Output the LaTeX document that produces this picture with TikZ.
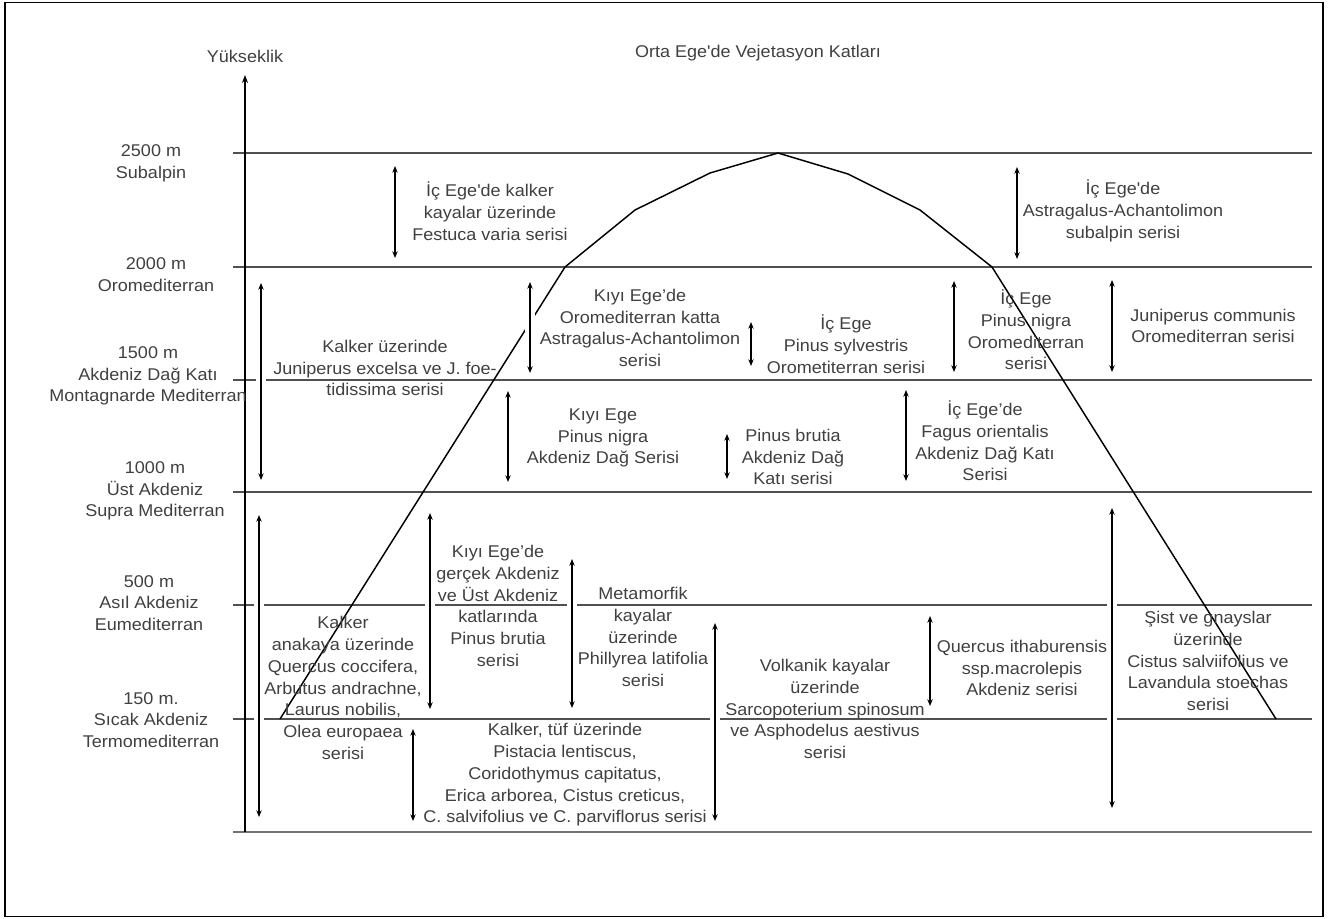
\documentclass[tikz,border=0pt]{standalone}
\usepackage{fontspec}
\setmainfont{Liberation Sans}[FakeStretch=1.06, Ligatures=TeXOff]
\usetikzlibrary{arrows.meta}
\definecolor{txt}{HTML}{404040}
\definecolor{ln}{HTML}{505050}
\begin{document}
\begin{tikzpicture}[x=0.75pt,y=-0.75pt,
  lbl/.style={text=txt, align=center, inner sep=0pt, font=\fontsize{12.75}{16.3}\selectfont},
  level/.style={draw=ln, line width=0.9pt},
  ground/.style={draw=black!55, line width=1.5pt},
  mountain/.style={draw=black, line width=1.1pt, line join=round},
  span/.style={line width=1.4pt, {Stealth[length=5pt,width=4pt]}-{Stealth[length=5pt,width=4pt]},
    preaction={draw=white, line width=7pt, -}},
  axis/.style={line width=1.1pt, -{Stealth[length=6pt,width=4.5pt]}}
]
\useasboundingbox (0,0) rectangle (1333,918);
\draw[line width=1.1pt] (5,2.5) rectangle (1323,916.5);

% altitude levels
\foreach \yy in {153,267,380,492,605,719}{\draw[level] (233,\yy) -- (1312,\yy);}
\draw[ground] (233,832) -- (1312,832);

% mountain profile
\draw[mountain] (280,719) -- (565,267) -- (635,210) -- (710,173) -- (778,153) -- (848,174) -- (920,210) -- (992,267) -- (1276,719);

% axis
\coordinate (ax0) at (245,832);
\coordinate (ax1) at (245,75);
\draw[axis] (ax0) -- (ax1);

% range arrows
\foreach \n/\xx/\ya/\yb in {1/395/166/258, 2/261/283/480, 3/259/515/817, 4/430/513/709,
  5/530/282/373, 6/751/322/366, 7/508/391/482, 8/727/434/479, 9/1017/167/259,
  10/954/281/372, 11/1112/280/372, 12/906/390/481, 13/1112/508/808, 14/413/729/821,
  15/572/559/708, 16/715/623/821, 17/930/616/706}{
  \coordinate (s\n a) at (\xx,\ya);
  \coordinate (s\n b) at (\xx,\yb);
  \draw[span] (s\n a) -- (s\n b);
}

% axis labels
\node[lbl] (yuk) at (245,56) {Yükseklik};
\node[lbl] (title) at (758,53) {Orta Ege'de Vejetasyon Katları};
\node[lbl] (l2500) at (151,163) {2500 m\\Subalpin};
\node[lbl] (l2000) at (156,275) {2000 m\\Oromediterran};
\node[lbl] (l1500) at (148,376) {1500 m\\Akdeniz Dağ Katı\\Montagnarde Mediterran};
\node[lbl] (l1000) at (155,491) {1000 m\\Üst Akdeniz\\Supra Mediterran};
\node[lbl] (l500) at (149,603) {500 m\\Asıl Akdeniz\\Eumediterran};
\node[lbl] (l150) at (151,720) {150 m.\\Sıcak Akdeniz\\Termomediterran};

% series labels
\node[lbl] (tA) at (490,211) {İç Ege'de kalker\\kayalar üzerinde\\Festuca varia serisi};
\node[lbl] (tB) at (1123,211) {İç Ege'de\\Astragalus-Achantolimon\\subalpin serisi};
\node[lbl] (tC) at (385,368) {Kalker üzerinde\\Juniperus excelsa ve J. foe-\\tidissima serisi};
\node[lbl] (tD) at (640,328) {Kıyı Ege’de\\Oromediterran katta\\Astragalus-Achantolimon\\serisi};
\node[lbl] (tE) at (846,344) {İç Ege\\Pinus sylvestris\\Orometiterran serisi};
\node[lbl] (tF) at (1026,330) {İç Ege\\Pinus nigra\\Oromediterran\\serisi};
\node[lbl] (tG) at (1213,326) {Juniperus communis\\Oromediterran serisi};
\node[lbl] (tH) at (603,438) {Kıyı Ege\\Pinus nigra\\Akdeniz Dağ Serisi};
\node[lbl] (tI) at (793,457) {Pinus brutia\\Akdeniz Dağ\\Katı serisi};
\node[lbl] (tJ) at (985,441) {İç Ege’de\\Fagus orientalis\\Akdeniz Dağ Katı\\Serisi};
\node[lbl] (tK) at (498,606) {Kıyı Ege’de\\gerçek Akdeniz\\ve Üst Akdeniz\\katlarında\\Pinus brutia\\serisi};
\node[lbl] (tL) at (643,637) {Metamorfik\\kayalar\\üzerinde\\Phillyrea latifolia\\serisi};
\node[lbl] (tM) at (343,688) {Kalker\\anakaya üzerinde\\Quercus coccifera,\\Arbutus andrachne,\\Laurus nobilis,\\Olea europaea\\serisi};
\node[lbl] (tN) at (565,775) {Kalker, tüf üzerinde\\Pistacia lentiscus,\\Coridothymus capitatus,\\Erica arborea, Cistus creticus,\\C. salvifolius ve C. parviflorus serisi};
\node[lbl] (tO) at (825,709) {Volkanik kayalar\\üzerinde\\Sarcopoterium spinosum\\ve Asphodelus aestivus\\serisi};
\node[lbl] (tP) at (1022,668) {Quercus ithaburensis\\ssp.macrolepis\\Akdeniz serisi};
\node[lbl] (tQ) at (1208,661) {Şist ve gnayslar\\üzerinde\\Cistus salviifolius ve\\Lavandula stoechas\\serisi};
\end{tikzpicture}
\end{document}
